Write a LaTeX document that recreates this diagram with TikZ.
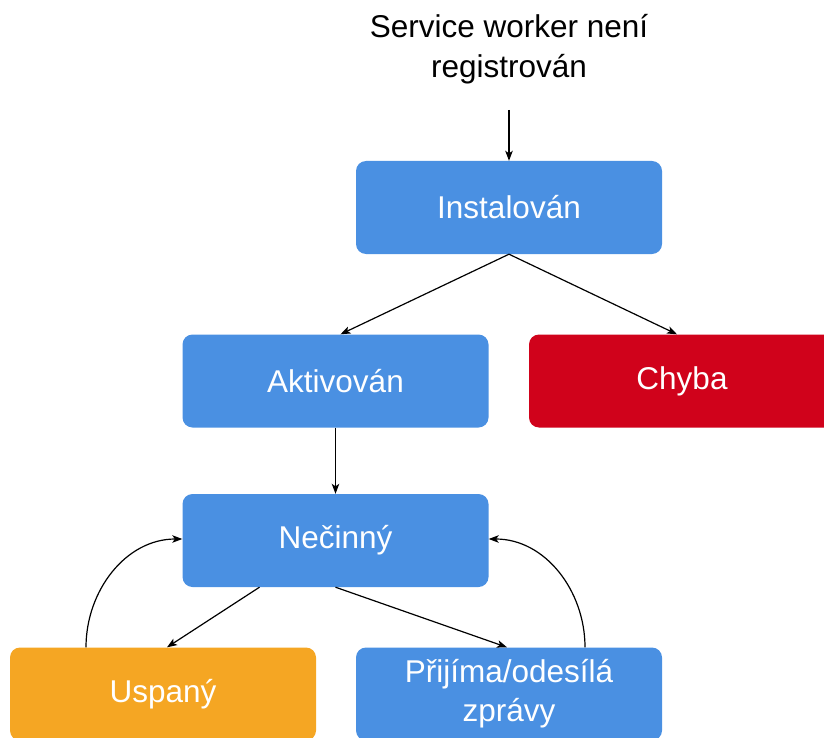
\documentclass[tikz,border=0pt]{standalone}
\usepackage{fontspec}
\setmainfont{Liberation Sans}
\usetikzlibrary{arrows.meta}

\definecolor{stateblue}{HTML}{4A90E2}
\definecolor{statered}{HTML}{D0021B}
\definecolor{stateorange}{HTML}{F5A623}

\tikzset{
  x=1pt, y=-1pt,
  statebox/.style={rectangle, rounded corners=10pt, inner sep=0pt,
    minimum width=306pt, minimum height=93pt, text=white,
    align=center, font=\fontsize{31.5}{39}\selectfont},
  flow/.style={-{Stealth[length=10pt,width=7.5pt,inset=2.5pt]}, line width=1.2pt, black}
}

\begin{document}
\begin{tikzpicture}
  \useasboundingbox (0,0) rectangle (824,738);
  \clip (0,0) rectangle (824,738);

  % caption above the first state
  \node[align=center, font=\fontsize{31.5}{40}\selectfont, inner sep=0pt]
    (label) at (509,49) {Service worker není\\registrován};
  \coordinate (entry) at (509,110);

  % states
  \node[statebox, fill=stateblue]   (inst)  at (509,207.5) {Instalován};
  \node[statebox, fill=stateblue]   (akt)   at (335.5,381) {Aktivován};
  \node[statebox, fill=statered]    (chyba) at (682,381)   {Chyba};
  \node[statebox, fill=stateblue]   (idle)  at (335.5,540.5) {Nečinný};
  \node[statebox, fill=stateorange] (sleep) at (163,694)   {Uspaný};
  \node[statebox, fill=stateblue]   (msg)   at (509,694)   {Přijíma/odesílá\\zprávy};

  % transitions
  \draw[flow] (entry) -- (inst.north);
  \draw[flow] (inst.south) -- ([xshift=5pt]akt.north);
  \draw[flow] (inst.south) -- ([xshift=-5pt]chyba.north);
  \draw[flow] (akt.south) -- (idle.north);
  \draw[flow] ([xshift=-76pt]idle.south) -- ([xshift=4pt]sleep.north);
  \draw[flow] (idle.south) -- ([xshift=-2pt]msg.north);
  \draw[flow] ([xshift=-77pt]sleep.north) to[out=90,in=180] ([yshift=1.5pt]idle.west);
  \draw[flow] ([xshift=76pt]msg.north) to[out=90,in=0] ([yshift=1.5pt]idle.east);
\end{tikzpicture}
\end{document}
